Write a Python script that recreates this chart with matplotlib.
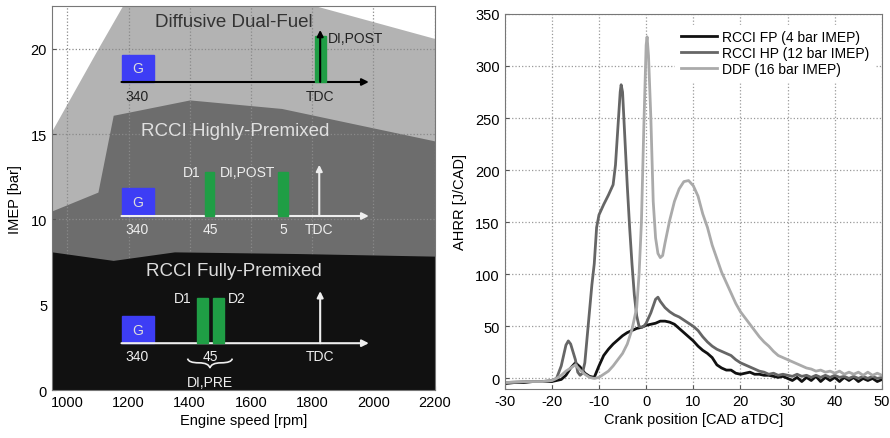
import matplotlib
matplotlib.use("Agg")
import matplotlib.pyplot as plt
from matplotlib.patches import Rectangle, PathPatch
from matplotlib.path import Path

plt.rcParams['font.family'] = ['Liberation Sans', 'DejaVu Sans']
plt.rcParams['axes.unicode_minus'] = False

# ---------------- data: left panel (operating regions) ----------------
ddf_rpm = [950, 1100, 1180, 1250, 1800, 1813, 2200]
ddf_imep = [15.2, 20.0, 22.5, 23.5, 23.5, 22.5, 20.6]
hp_rpm = [950, 1100, 1150, 1400, 1700, 2200]
hp_imep = [10.5, 11.6, 16.1, 17.0, 16.5, 14.6]
fp_rpm = [950, 1150, 1350, 1760, 2200]
fp_imep = [8.1, 7.6, 8.1, 8.0, 7.85]
rpm_ticks = [1000, 1200, 1400, 1600, 1800, 2000, 2200]
imep_ticks = [0, 5, 10, 15, 20]

# ---------------- data: right panel (AHRR curves) ----------------
fp_cad = [-30, -28, -26, -24, -22, -20, -19, -18, -17, -16, -15, -14, -13, -12, -11,
          -10, -9, -8, -7, -6, -5, -4, -3, -2, -1, 0, 1, 2, 3, 4, 5, 6, 7, 8, 9, 10,
          11, 12, 13, 14, 15, 16, 17, 18, 19, 20, 21, 22, 23, 24, 25, 26, 27, 28, 29,
          30, 31, 32, 33, 34, 35, 36, 37, 38, 39, 40, 41, 42, 43, 44, 45, 46, 47, 48,
          49, 50]
fp_ahrr = [-5, -4, -4, -3, -3, -3, -2, -1, 3, 10, 15, 11, 5, 2, 1,
           12, 22, 28, 33, 37, 41, 44, 46, 48, 49, 51, 52, 53, 55, 55, 54, 52, 48, 44,
           40, 36, 31, 27, 24, 20, 13, 10, 8, 8, 5, 4, 5, 6, 4, 4, 3, 3, 2, 1, 2,
           0, -2, 1, -3, 1, -2, 2, -3, 1, -2, 1, -3, 1, -2, 1, -3, 0, -2, 0, -3, -1]

hp_cad = [-30, -25, -22, -20, -19, -18, -17, -16.5, -16, -15, -14.5, -14, -13.5, -13,
          -12.5, -12, -11.5, -11, -10.5, -10, -9, -8, -7, -6.5, -6, -5.5, -5.3, -5,
          -4.5, -4, -3.5, -3, -2.5, -2, -1.5, -1, -0.5, 0, 1, 2, 2.5, 3, 4, 5, 6, 7,
          8, 9, 10, 11, 12, 13, 14, 15, 16, 17, 18, 19, 20, 21, 22, 23, 24, 25, 26,
          27, 28, 29, 30, 31, 32, 33, 34, 35, 36, 37, 38, 39, 40, 41, 42, 43, 44, 45,
          46, 47, 48, 49, 50]
hp_ahrr = [-4, -3, -3, -2, 0, 12, 32, 36, 33, 18, 6, 3, 5, 15,
           40, 65, 90, 110, 145, 157, 167, 176, 186, 205, 240, 275, 282, 275,
           230, 185, 145, 110, 80, 60, 50, 49, 50, 53, 63, 76, 78, 74, 68, 64, 61, 59,
           56, 53, 50, 46, 40, 35, 31, 28, 26, 24, 22, 18, 15, 13, 11, 9, 7, 6, 4,
           5, 3, 4, 3, 2, 4, 2, 3, 1, 3, 1, 3, 1, 3, 1, 2, 0, 2, 0,
           2, 0, 2, 0, 1]

ddf_cad = [-30, -25, -22, -20, -19, -18, -17, -16, -15, -14, -13, -12, -11, -10, -9,
           -8, -7, -6, -5, -4, -3, -2, -1.5, -1, -0.5, 0, 0.2, 0.5, 1, 1.5, 2, 2.5,
           3, 3.5, 4, 5, 6, 7, 8, 9, 10, 11, 12, 13, 14, 15, 16, 17, 18, 19, 20, 21,
           22, 23, 24, 25, 26, 27, 28, 29, 30, 31, 32, 33, 34, 35, 36, 37, 38, 39, 40,
           41, 42, 43, 44, 45, 46, 47, 48, 49, 50]
ddf_ahrr = [-4, -3, -3, -2, 0, 3, 7, 10, 13, 8, 4, 1, 0, 1, 4,
            7, 12, 18, 24, 33, 47, 68, 100, 150, 240, 320, 328, 310, 250, 170, 135, 120,
            116, 118, 130, 152, 170, 182, 189, 190, 185, 175, 158, 145, 128, 115, 102, 92,
            82, 72, 64, 58, 52, 46, 40, 35, 31, 26, 22, 20, 18, 16, 14, 12, 10, 9, 7,
            8, 6, 7, 5, 7, 4, 6, 4, 6, 3, 6, 3, 5, 3]

series_labels = ['RCCI FP (4 bar IMEP)', 'RCCI HP (12 bar IMEP)', 'DDF (16 bar IMEP)']
series_colors = ['#111111', '#666666', '#aaaaaa']
cad_ticks = [-30, -20, -10, 0, 10, 20, 30, 40, 50]
ahrr_ticks = [0, 50, 100, 150, 200, 250, 300, 350]

# ---------------- figure ----------------
fig = plt.figure(figsize=(8.9, 4.39), dpi=100)
ax1 = fig.add_axes([0.0584, 0.109, 0.430, 0.875])
ax2 = fig.add_axes([0.567, 0.112, 0.424, 0.854])

# ----- left panel -----
ax1.set_xlim(950, 2200)
ax1.set_ylim(0, 22.5)
ax1.fill_between(ddf_rpm, 0, ddf_imep, color='#b3b3b3', lw=0, zorder=0.2)
ax1.fill_between(hp_rpm, 0, hp_imep, color='#6d6d6d', lw=0, zorder=0.3)
ax1.set_axisbelow(True)
ax1.grid(True, color='#8a8a8a', linestyle=':', linewidth=0.9)
ax1.fill_between(fp_rpm, 0, fp_imep, color='#111111', lw=0, zorder=0.8)
ax1.set_xticks(rpm_ticks)
ax1.set_yticks(imep_ticks)
ax1.tick_params(direction='in', length=3, labelsize=10.5, color='#555555')
ax1.set_xlabel('Engine speed [rpm]', fontsize=10.5, labelpad=3)
ax1.set_ylabel('IMEP [bar]', fontsize=10.5, labelpad=6)
for s in ax1.spines.values():
    s.set_color('#777777')

green = '#1f9e45'
blue = '#3d3df5'
ts = 13.5  # title size for regions
ls = 10    # label size for schematics


def schematic(ax, y_axis, col, g_top):
    # gas box
    ax.add_patch(Rectangle((1180, y_axis), 102, g_top - y_axis, color=blue, zorder=3))
    ax.text(1231, (y_axis + g_top) / 2, 'G', color='#dddddd', fontsize=ls,
            ha='center', va='center', zorder=4)
    ax.annotate('', xy=(1985, y_axis), xytext=(1177, y_axis),
                arrowprops=dict(arrowstyle='-|>', color=col, lw=1.5,
                                mutation_scale=10, shrinkA=0, shrinkB=0), zorder=3)


# DDF schematic
ax1.text(1544, 21.6, 'Diffusive Dual-Fuel', fontsize=ts, color='#333333',
         ha='center', va='center', zorder=5)
schematic(ax1, 18.05, 'black', 19.65)
ax1.add_patch(Rectangle((1808, 18.05), 36, 2.7, color=green, zorder=3))
ax1.annotate('', xy=(1826, 21.1), xytext=(1826, 18.05),
             arrowprops=dict(arrowstyle='-|>', color='black', lw=1.5,
                             mutation_scale=9, shrinkA=0, shrinkB=0), zorder=4)
ax1.text(1852, 20.6, 'DI,POST', fontsize=ls, color='#222222', ha='left', va='center')
ax1.text(1229, 17.25, '340', fontsize=ls, color='#222222', ha='center', va='center')
ax1.text(1826, 17.25, 'TDC', fontsize=ls, color='#222222', ha='center', va='center')

# RCCI HP schematic
lc = '#eeeeee'
ax1.text(1548, 15.2, 'RCCI Highly-Premixed', fontsize=ts, color='#e0e0e0',
         ha='center', va='center', zorder=5)
schematic(ax1, 10.2, lc, 11.85)
ax1.add_patch(Rectangle((1449, 10.2), 31, 2.6, color=green, zorder=3))
ax1.add_patch(Rectangle((1689, 10.2), 32, 2.6, color=green, zorder=3))
ax1.annotate('', xy=(1823, 13.2), xytext=(1823, 10.2),
             arrowprops=dict(arrowstyle='-|>', color=lc, lw=1.5,
                             mutation_scale=9, shrinkA=0, shrinkB=0), zorder=4)
ax1.text(1405, 12.75, 'D1', fontsize=ls, color=lc, ha='center', va='center')
ax1.text(1590, 12.8, 'DI,POST', fontsize=ls, color=lc, ha='center', va='center')
for xx, t in [(1229, '340'), (1466, '45'), (1705, '5'), (1823, 'TDC')]:
    ax1.text(xx, 9.45, t, fontsize=ls, color=lc, ha='center', va='center')

# RCCI FP schematic
ax1.text(1544, 7.0, 'RCCI Fully-Premixed', fontsize=ts, color='#dddddd',
         ha='center', va='center', zorder=5)
schematic(ax1, 2.75, lc, 4.35)
ax1.add_patch(Rectangle((1423, 2.75), 36, 2.65, color=green, zorder=3))
ax1.add_patch(Rectangle((1475, 2.75), 36, 2.65, color=green, zorder=3))
ax1.annotate('', xy=(1826, 5.8), xytext=(1826, 2.75),
             arrowprops=dict(arrowstyle='-|>', color=lc, lw=1.5,
                             mutation_scale=9, shrinkA=0, shrinkB=0), zorder=4)
ax1.text(1377, 5.4, 'D1', fontsize=ls, color=lc, ha='center', va='center')
ax1.text(1553, 5.4, 'D2', fontsize=ls, color=lc, ha='center', va='center')
for xx, t in [(1229, '340'), (1466, '45'), (1826, 'TDC')]:
    ax1.text(xx, 2.0, t, fontsize=ls, color=lc, ha='center', va='center')
brace = Path([(1393, 1.85), (1395, 1.6), (1430, 1.6), (1462, 1.6), (1466, 1.3),
              (1470, 1.6), (1502, 1.6), (1537, 1.6), (1539, 1.85)],
             [Path.MOVETO, Path.CURVE3, Path.CURVE3, Path.CURVE3, Path.CURVE3,
              Path.CURVE3, Path.CURVE3, Path.CURVE3, Path.CURVE3])
ax1.add_patch(PathPatch(brace, fill=False, edgecolor=lc, lw=1.2, zorder=4))
ax1.text(1466, 0.5, 'DI,PRE', fontsize=ls, color=lc, ha='center', va='center')

# ----- right panel -----
ax2.set_xlim(-30, 50)
ax2.set_ylim(-10, 350)
ax2.grid(True, color='#999999', linestyle=':', linewidth=0.9)
ax2.set_axisbelow(True)
for cad, val, lab, colr in zip([fp_cad, hp_cad, ddf_cad], [fp_ahrr, hp_ahrr, ddf_ahrr],
                               series_labels, series_colors):
    ax2.plot(cad, val, color=colr, lw=2.0, label=lab)
ax2.set_xticks(cad_ticks)
ax2.set_yticks(ahrr_ticks)
ax2.tick_params(direction='in', length=3, labelsize=10.5, color='#555555')
ax2.set_xlabel('Crank position [CAD aTDC]', fontsize=10.5, labelpad=3)
ax2.set_ylabel('AHRR [J/CAD]', fontsize=10.5, labelpad=6)
for s in ax2.spines.values():
    s.set_color('#777777')
ax2.legend(loc='upper right', bbox_to_anchor=(1.0, 0.99), frameon=True,
           facecolor='white', edgecolor='white', framealpha=1, fontsize=10,
           handlelength=2.6, handletextpad=0.4, labelspacing=0.15, borderpad=0.4)

fig.savefig('out.png', dpi=100)
